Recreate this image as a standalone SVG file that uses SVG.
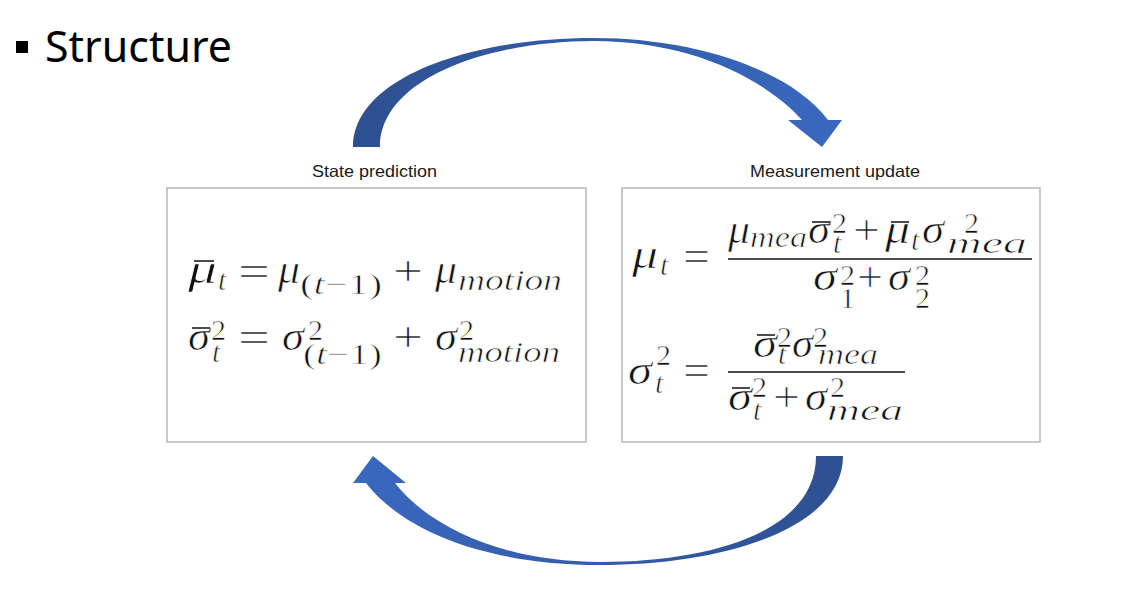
<svg xmlns="http://www.w3.org/2000/svg" width="1132" height="608" viewBox="0 0 1132 608">
<defs>
<linearGradient id="gTop" x1="353" y1="0" x2="842" y2="0" gradientUnits="userSpaceOnUse">
<stop offset="0" stop-color="#2E5090"/><stop offset="1" stop-color="#3A68C0"/>
</linearGradient>
<linearGradient id="gBot" x1="843" y1="0" x2="353" y2="0" gradientUnits="userSpaceOnUse">
<stop offset="0" stop-color="#2E5090"/><stop offset="1" stop-color="#3A68C0"/>
</linearGradient>
</defs>
<style>
.box{fill:#fff;stroke:#b8b8b8;stroke-width:1.5}
.lbl{font-family:"Liberation Sans",Arial,sans-serif;font-size:16.5px;fill:#1a1a1a}
.m,.r,.s,.sr{font-family:"Liberation Serif","Times New Roman",serif;fill:#111;stroke:#fff;stroke-width:0.7px}
.m{font-style:italic;font-size:42px}
.r{font-style:normal;font-size:42px}
.s{font-style:italic;font-size:30px}
.sr{font-style:normal;font-size:30px}
.bar{stroke:#111;stroke-width:1.5}
.fbar{stroke:#111;stroke-width:1.6}
</style>
<rect width="1132" height="608" fill="#fff"/>

<g id="title">
<rect x="16" y="41" width="12" height="12" fill="#000"/>
<text x="45" y="62" font-family="'Noto Sans','Open Sans',sans-serif" font-size="44" textLength="187" lengthAdjust="spacingAndGlyphs" fill="#000">Structure</text>
</g>

<g id="connectors">
<path id="arrow-top" fill="url(#gTop)" d="M353,147 C353,78 470,38 593,38 C700,38 792,72 828,120 L842,120 L822,147 L788,120 L802,120 C764,78 690,41 593,41 C490,41 380,78 380,147 Z"/>
<path id="arrow-bottom" fill="url(#gBot)" d="M843,456 C843,528 725,565 600,565 C485,565 402,530 366,483 L353,483 L373,456 L406,483 L395,483 C430,528 505,562 600,562 C715,562 816,530 816,456 Z"/>
</g>

<g id="state-prediction">
<text class="lbl" x="312" y="177" textLength="125" lengthAdjust="spacingAndGlyphs">State prediction</text>
<rect class="box" x="167" y="188" width="419" height="254"/>
<text class="m" x="188" y="283" textLength="29" lengthAdjust="spacingAndGlyphs">μ</text>
<line class="bar" x1="194" y1="261" x2="214" y2="261"/>
<text class="s" x="218" y="290">t</text>
<text class="r" x="238" y="285" textLength="32" lengthAdjust="spacingAndGlyphs">=</text>
<text class="m" x="278" y="283" textLength="22" lengthAdjust="spacingAndGlyphs">μ</text>
<text class="sr" x="300" y="294" textLength="82" lengthAdjust="spacingAndGlyphs">(<tspan font-style="italic">t</tspan>−1)</text>
<text class="r" x="393" y="285" textLength="30" lengthAdjust="spacingAndGlyphs">+</text>
<text class="m" x="435" y="283" textLength="22" lengthAdjust="spacingAndGlyphs">μ</text>
<text class="s" x="458" y="290" textLength="104" lengthAdjust="spacingAndGlyphs">motion</text>
<text class="m" x="188" y="350" textLength="22" lengthAdjust="spacingAndGlyphs">σ</text>
<line class="bar" x1="192" y1="328" x2="210" y2="328"/>
<text class="sr" x="211" y="340">2</text>
<text class="s" x="212" y="362">t</text>
<text class="r" x="238" y="351" textLength="32" lengthAdjust="spacingAndGlyphs">=</text>
<text class="m" x="282" y="350" textLength="22" lengthAdjust="spacingAndGlyphs">σ</text>
<text class="sr" x="308" y="340">2</text>
<text class="sr" x="303" y="364" textLength="79" lengthAdjust="spacingAndGlyphs">(<tspan font-style="italic">t</tspan>−1)</text>
<text class="r" x="393" y="351" textLength="30" lengthAdjust="spacingAndGlyphs">+</text>
<text class="m" x="435" y="350" textLength="22" lengthAdjust="spacingAndGlyphs">σ</text>
<text class="sr" x="459" y="340">2</text>
<text class="s" x="458" y="362" textLength="102" lengthAdjust="spacingAndGlyphs">motion</text>
</g>

<g id="measurement-update">
<text class="lbl" x="750" y="177" textLength="170" lengthAdjust="spacingAndGlyphs">Measurement update</text>
<rect class="box" x="622" y="188" width="418" height="254"/>
<text class="m" x="632" y="268" textLength="26" lengthAdjust="spacingAndGlyphs">μ</text>
<text class="s" x="660" y="275">t</text>
<text class="r" x="683" y="270" textLength="27" lengthAdjust="spacingAndGlyphs">=</text>
<line class="fbar" x1="728" y1="259" x2="1032" y2="259"/>
<text class="m" x="728" y="243" textLength="22" lengthAdjust="spacingAndGlyphs">μ</text>
<text class="s" x="750" y="247" textLength="57" lengthAdjust="spacingAndGlyphs">mea</text>
<text class="m" x="808" y="243" textLength="22" lengthAdjust="spacingAndGlyphs">σ</text>
<line class="bar" x1="812" y1="222" x2="830" y2="222"/>
<text class="sr" x="832" y="233">2</text>
<text class="s" x="833" y="253">t</text>
<text class="r" x="853" y="244" textLength="27" lengthAdjust="spacingAndGlyphs">+</text>
<text class="m" x="885" y="243" textLength="25" lengthAdjust="spacingAndGlyphs">μ</text>
<line class="bar" x1="891" y1="222" x2="909" y2="222"/>
<text class="s" x="911" y="250">t</text>
<text class="m" x="922" y="243" textLength="22" lengthAdjust="spacingAndGlyphs">σ</text>
<text class="sr" x="964" y="233">2</text>
<text class="s" x="947" y="253" textLength="80" lengthAdjust="spacingAndGlyphs">mea</text>
<text class="m" x="813" y="290" textLength="24" lengthAdjust="spacingAndGlyphs">σ</text>
<text class="sr" x="840" y="285">2</text>
<text class="sr" x="840" y="308">1</text>
<text class="r" x="857" y="291" textLength="26" lengthAdjust="spacingAndGlyphs">+</text>
<text class="m" x="888" y="290" textLength="22" lengthAdjust="spacingAndGlyphs">σ</text>
<text class="sr" x="915" y="285">2</text>
<text class="sr" x="915" y="308">2</text>
<text class="m" x="628" y="384" textLength="24" lengthAdjust="spacingAndGlyphs">σ</text>
<text class="sr" x="656" y="365">2</text>
<text class="s" x="655" y="393">t</text>
<text class="r" x="683" y="384" textLength="27" lengthAdjust="spacingAndGlyphs">=</text>
<line class="fbar" x1="728" y1="372" x2="905" y2="372"/>
<text class="m" x="753" y="357" textLength="24" lengthAdjust="spacingAndGlyphs">σ</text>
<line class="bar" x1="757" y1="335" x2="775" y2="335"/>
<text class="sr" x="777" y="347">2</text>
<text class="s" x="778" y="364">t</text>
<text class="m" x="792" y="357" textLength="21" lengthAdjust="spacingAndGlyphs">σ</text>
<text class="sr" x="813" y="347">2</text>
<text class="s" x="818" y="364" textLength="60" lengthAdjust="spacingAndGlyphs">mea</text>
<text class="m" x="728" y="410" textLength="24" lengthAdjust="spacingAndGlyphs">σ</text>
<line class="bar" x1="732" y1="388" x2="750" y2="388"/>
<text class="sr" x="752" y="397">2</text>
<text class="s" x="753" y="420">t</text>
<text class="r" x="773" y="411" textLength="27" lengthAdjust="spacingAndGlyphs">+</text>
<text class="m" x="805" y="410" textLength="22" lengthAdjust="spacingAndGlyphs">σ</text>
<text class="sr" x="830" y="397">2</text>
<text class="s" x="827" y="420" textLength="76" lengthAdjust="spacingAndGlyphs">mea</text>
</g>
</svg>
